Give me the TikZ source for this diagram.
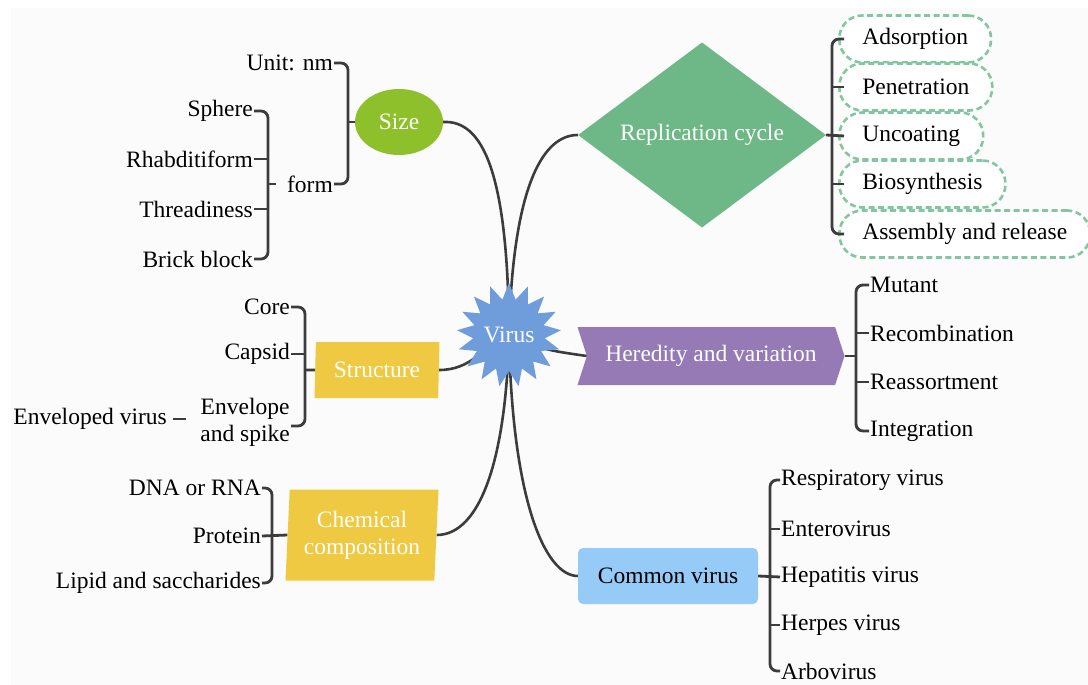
\documentclass[tikz,border=0pt]{standalone}
\usepackage{fontspec}
\setmainfont{Liberation Serif}
\usetikzlibrary{shapes.geometric,shapes.symbols,positioning,backgrounds}

\definecolor{linegray}{HTML}{3C3C3C}
\definecolor{sizegreen}{HTML}{8DC02B}
\definecolor{repgreen}{HTML}{6DB886}
\definecolor{dashgreen}{HTML}{82C79F}
\definecolor{herpurple}{HTML}{957AB5}
\definecolor{comblue}{HTML}{95CBF6}
\definecolor{topicyellow}{HTML}{EEC941}
\definecolor{virusblue}{HTML}{6F9DDC}
\definecolor{paper}{HTML}{FBFBFB}

\begin{document}
\begin{tikzpicture}[x=1pt, y=-1pt,
        every node/.style={font=\fontsize{23.5}{27}\selectfont},
        leaf/.style={inner sep=1pt},
        topic/.style={text=white, inner sep=0pt, align=center},
        slanted/.style={topic, trapezium, fill=topicyellow,
            trapezium left angle=85, trapezium right angle=95,
            trapezium stretches body},
        stepbox/.style={draw=dashgreen, line width=2.6pt, dash pattern=on 6pt off 3.5pt,
            rounded corners=23pt, minimum height=47pt, inner xsep=23pt,
            anchor=west, fill=white},
        link/.style={draw=linegray, line width=2.8pt, rounded corners=7pt},
        curve/.style={draw=linegray, line width=2.6pt}
    ]
    \useasboundingbox (0,0) rectangle (1088,685);

    % central topic
    \node[star, star points=17, star point ratio=1.45, minimum size=96pt,
        fill=virusblue, text=white, inner sep=0pt] (virus) at (509,335) {Virus};

    % main branches
    \node[topic, ellipse, fill=sizegreen, minimum width=88pt, minimum height=66pt]
        (size) at (399,122) {Size};
    \node[topic, diamond, fill=repgreen, minimum width=248pt, minimum height=143pt]
        (rep) at (702,135) {Replication cycle};
    \node[topic, signal, signal from=west, signal to=east, signal pointer angle=144,
        fill=herpurple, minimum width=267pt, minimum height=58pt]
        (her) at (711,356) {Heredity and variation};
    \node[topic, text=black, fill=comblue, rounded corners=5pt,
        minimum width=180pt, minimum height=56pt]
        (common) at (668,576) {Common virus};
    \node[slanted, minimum width=125pt, minimum height=56pt]
        (struct) at (377,370) {Structure};
    \node[slanted, minimum width=153pt, minimum height=91pt]
        (chem) at (362,535) {Chemical\\composition};

    % size
    \node[leaf, anchor=east] (unit) at (334,63) {Unit: nm};
    \node[leaf, anchor=east] (form) at (334,184) {form};
    \node[leaf, anchor=east] (sphere) at (254,111) {Sphere};
    \node[leaf, anchor=east] (rhab) at (254,159) {Rhabditiform};
    \node[leaf, anchor=east] (thread) at (254,209) {Threadiness};
    \node[leaf, anchor=east] (brick) at (254,259) {Brick block};

    % structure
    \node[leaf, anchor=east] (core) at (291,307) {Core};
    \node[leaf, anchor=east] (capsid) at (291,354) {Capsid};
    \node[leaf, anchor=east, align=center] (envel) at (291,422) {Envelope\\and spike};
    \node[leaf, anchor=east] (enveloped) at (168,419) {Enveloped virus};

    % chemical composition
    \node[leaf, anchor=east] (dna) at (262,488) {DNA or RNA};
    \node[leaf, anchor=east] (protein) at (262,536) {Protein};
    \node[leaf, anchor=east] (lipid) at (262,583) {Lipid and saccharides};

    % replication cycle
    \node[stepbox] (ads) at (838,39) {Adsorption};
    \node[stepbox] (pen) at (838,87) {Penetration};
    \node[stepbox] (unc) at (838,136) {Uncoating};
    \node[stepbox] (bio) at (838,184) {Biosynthesis};
    \node[stepbox] (asm) at (838,234) {Assembly and release};

    % heredity and variation
    \node[leaf, anchor=west] (mutant) at (869,285) {Mutant};
    \node[leaf, anchor=west] (recomb) at (869,333) {Recombination};
    \node[leaf, anchor=west] (reass) at (869,382) {Reassortment};
    \node[leaf, anchor=west] (integ) at (869,431) {Integration};

    % common virus
    \node[leaf, anchor=west] (resp) at (780,480) {Respiratory virus};
    \node[leaf, anchor=west] (entero) at (780,529) {Enterovirus};
    \node[leaf, anchor=west] (hepat) at (780,577) {Hepatitis virus};
    \node[leaf, anchor=west] (herpes) at (780,625) {Herpes virus};
    \node[leaf, anchor=west] (arbo) at (780,671) {Arbovirus};

    % curves from the centre
    \begin{scope}[on background layer]
        \fill[paper] (11,8) rectangle (1088,685);
        \draw[curve] (virus.center) .. controls (508,170) and (482,120) .. (size.east);
        \draw[curve] (virus.center) .. controls (513,180) and (545,135) .. (rep.west);
        \draw[curve] (virus.center) .. controls (545,350) .. (her.west);
        \draw[curve] (virus.center) .. controls (512,500) and (545,576) .. (common.west);
        \draw[curve] (virus.center) .. controls (480,350) and (470,370) .. (struct.east);
        \draw[curve] (virus.center) .. controls (506,460) and (480,535) .. (chem.east);
    \end{scope}

    % brackets
    \coordinate (sizebr) at (348,122);
    \draw[link] (unit.east) -| (sizebr) |- (form.east);
    \draw[link] (sizebr) -- (size.west);

    \coordinate (formbr) at (268,184);
    \draw[link] (sphere.east) -| (formbr) |- (brick.east);
    \draw[link] (rhab.east) -- (rhab.east -| formbr);
    \draw[link] (thread.east) -- (thread.east -| formbr);
    \draw[link] (formbr) -- ([xshift=-10pt]form.west);

    \coordinate (structbr) at (305,370);
    \draw[link] (core.east) -| (structbr) |- ([yshift=-4pt]envel.east);
    \draw[link] (capsid.east) -- (capsid.east -| structbr);
    \draw[link] (structbr) -- (struct.west);
    \draw[link, shorten <=5pt, shorten >=13pt] (enveloped.east) -- (enveloped.east -| envel.west);

    \coordinate (chembr) at (272,536);
    \draw[link] (dna.east) -| (chembr) |- (lipid.east);
    \draw[link] (protein.east) -- (chem.west);

    \coordinate (repbr) at (832,135);
    \draw[link] ([xshift=6pt]ads.west) -| (repbr) |- ([xshift=6pt]asm.west);
    \draw[link] ([xshift=6pt]pen.west) -- (pen.west -| repbr);
    \draw[link] ([xshift=6pt]bio.west) -- (bio.west -| repbr);
    \draw[link] (rep.east) -- ([xshift=6pt]unc.west);

    \coordinate (herbr) at (856,356);
    \draw[link] (mutant.west) -| (herbr) |- (integ.west);
    \draw[link] (recomb.west) -- (recomb.west -| herbr);
    \draw[link] (reass.west) -- (reass.west -| herbr);
    \draw[link] (her.east) -- (herbr);

    \coordinate (combr) at (770,577);
    \draw[link] (resp.west) -| (combr) |- (arbo.west);
    \draw[link] (entero.west) -- (entero.west -| combr);
    \draw[link] (herpes.west) -- (herpes.west -| combr);
    \draw[link] (common.east) -- (hepat.west);
\end{tikzpicture}
\end{document}
